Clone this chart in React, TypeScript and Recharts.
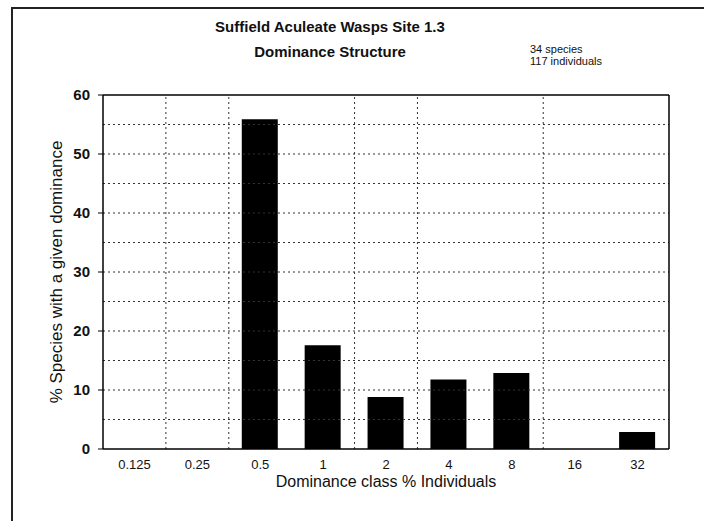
import React from 'react';
import { BarChart, Bar, XAxis, YAxis, ReferenceLine, Label } from 'recharts';

const classes = ['0.125', '0.25', '0.5', '1', '2', '4', '8', '16', '32'];
const pctSpecies = [0, 0, 55.9, 17.6, 8.8, 11.8, 12.9, 0, 2.9];
const yTicks = [0, 10, 20, 30, 40, 50, 60];
const gridTicks = [5, 10, 15, 20, 25, 30, 35, 40, 45, 50, 55];
// category boundaries where the dotted vertical grid is visible
const boundaryAt = ['0.25', '0.5', '2', '4', '16'];

const FONT = '"Liberation Sans", Arial, sans-serif';
const GRID = { stroke: '#333', strokeDasharray: '2 3', strokeWidth: 1 };
const FRAME = { stroke: '#000', strokeWidth: 1.5 };

export default function App() {
  const data = classes.map((c, i) => ({ cls: c, pct: pctSpecies[i] }));
  const last = classes[classes.length - 1];

  return (
    <div style={{ position: 'absolute', left: 0, top: 0, width: 704, height: 521, overflow: 'hidden', background: '#fff', fontFamily: FONT }}>
      {/* scanned page frame */}
      <div style={{ position: 'absolute', left: 11, top: 7, width: 700, height: 1.5, background: '#222' }} />
      <div style={{ position: 'absolute', left: 11, top: 7, width: 1.5, height: 520, background: '#222' }} />

      <div style={{ position: 'absolute', left: 180, width: 300, top: 18, textAlign: 'center', fontWeight: 'bold', fontSize: 15, color: '#111', lineHeight: '18px' }}>
        Suffield Aculeate Wasps Site 1.3
      </div>
      <div style={{ position: 'absolute', left: 180, width: 300, top: 43, textAlign: 'center', fontWeight: 'bold', fontSize: 15, color: '#111', lineHeight: '18px' }}>
        Dominance Structure
      </div>
      <div style={{ position: 'absolute', left: 530, top: 43, fontSize: 11, color: '#111', lineHeight: '12px' }}>
        34 species<br />117 individuals
      </div>

      <div style={{ position: 'absolute', left: 0, top: 0 }}>
        <BarChart width={704} height={521} data={data} margin={{ top: 95, right: 35, left: 0, bottom: 22 }} barSize={36}>
          <XAxis
            dataKey="cls"
            height={50}
            tickLine={false}
            tickSize={0}
            tickMargin={11}
            axisLine={FRAME}
            tick={{ fill: '#111', fontSize: 13, fontFamily: FONT }}
          >
            <Label value="Dominance class % Individuals" position="insideTop" offset={27} fill="#111" fontSize={16} fontFamily={FONT} />
          </XAxis>
          <YAxis
            domain={[0, 60]}
            ticks={yTicks}
            width={103}
            tickSize={5}
            tickMargin={8}
            axisLine={FRAME}
            tickLine={{ stroke: '#000' }}
            tick={{ fill: '#111', fontSize: 15, fontWeight: 'bold', fontFamily: FONT }}
          >
            <Label value="% Species with a given dominance" angle={-90} position="insideLeft" offset={56} fill="#111" fontSize={17} fontFamily={FONT} style={{ textAnchor: 'middle' }} />
          </YAxis>
          {gridTicks.map(v => (
            <ReferenceLine key={'h' + v} y={v} {...GRID} />
          ))}
          {boundaryAt.map(c => (
            <ReferenceLine key={'v' + c} x={c} position="start" {...GRID} />
          ))}
          <ReferenceLine y={60} {...FRAME} />
          <ReferenceLine x={last} position="end" {...FRAME} />
          <Bar dataKey="pct" fill="#000" isAnimationActive={false} />
        </BarChart>
      </div>
    </div>
  );
}
